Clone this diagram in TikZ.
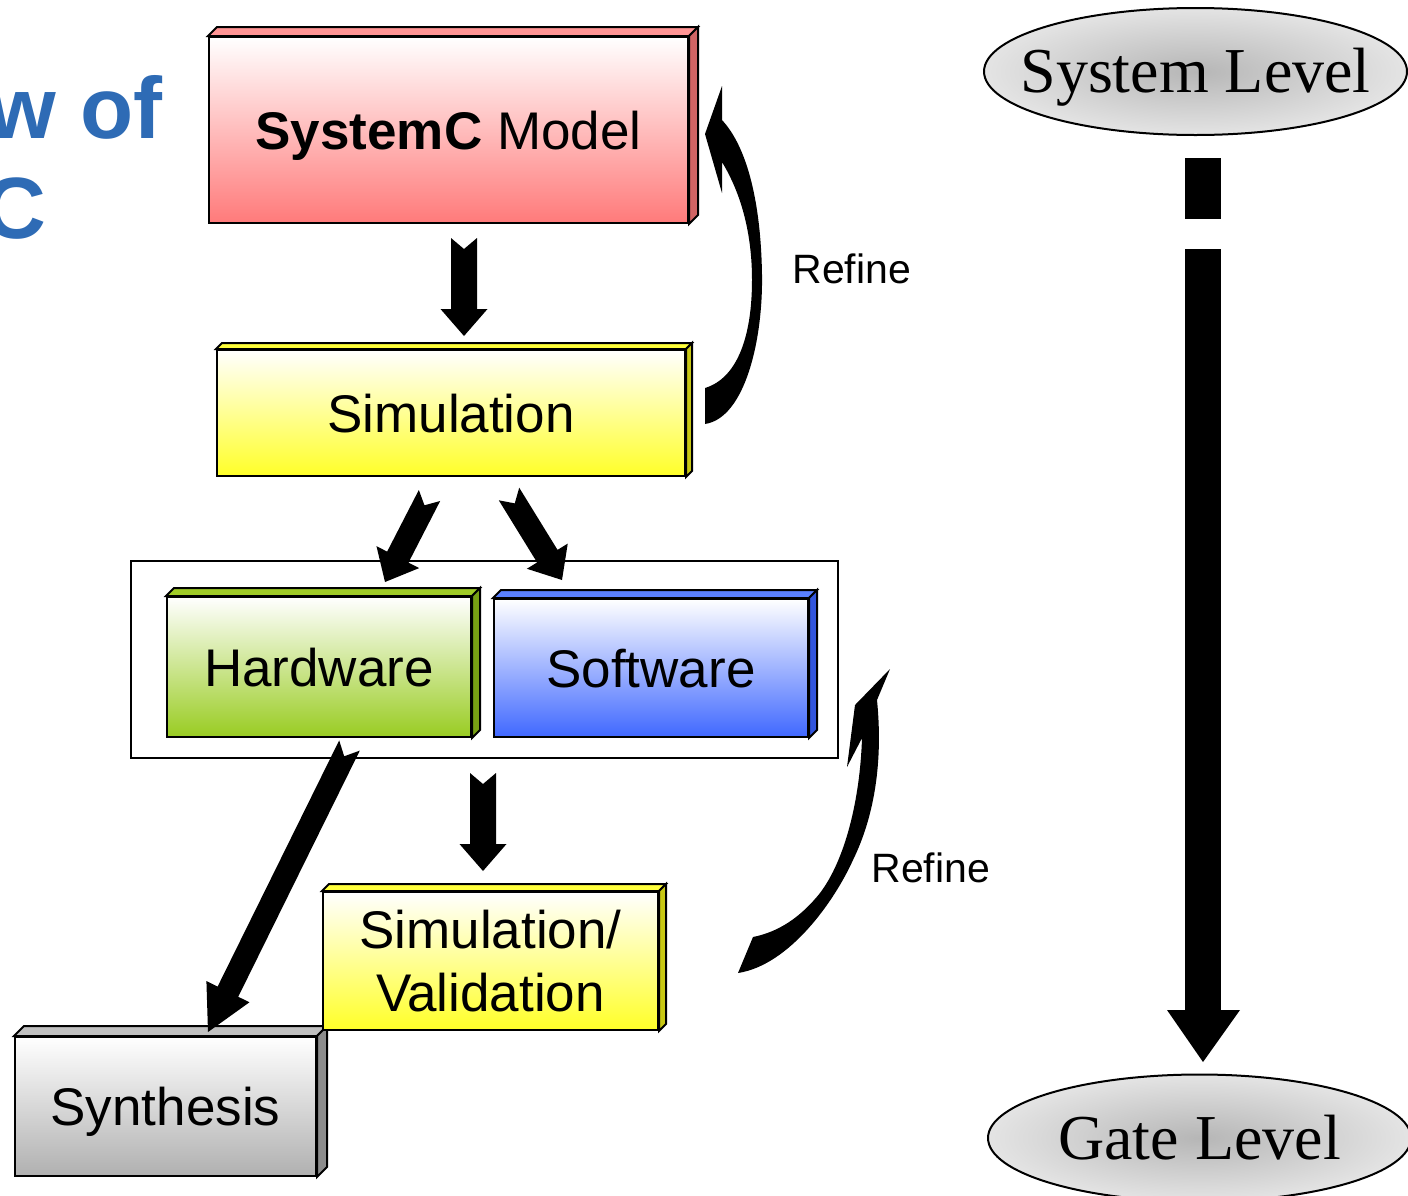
\documentclass[tikz,border=0pt]{standalone}
\usepackage{fontspec}
\setmainfont{Liberation Sans}
\newfontfamily\levelfont{Liberation Serif}
\usetikzlibrary{calc,shapes.geometric}

\definecolor{titleblue}{RGB}{46,107,181}
\definecolor{pinkB}{RGB}{255,122,122}
\definecolor{pinkT}{RGB}{255,148,148}
\definecolor{pinkS}{RGB}{208,100,100}
\definecolor{yelB}{RGB}{255,255,40}
\definecolor{yelT}{RGB}{255,255,60}
\definecolor{yelS}{RGB}{200,200,20}
\definecolor{grnB}{RGB}{153,204,34}
\definecolor{grnT}{RGB}{160,204,40}
\definecolor{grnS}{RGB}{120,160,20}
\definecolor{bluB}{RGB}{64,104,255}
\definecolor{bluT}{RGB}{90,128,255}
\definecolor{bluS}{RGB}{50,85,220}
\definecolor{gryB}{RGB}{176,176,176}
\definecolor{gryT}{RGB}{192,192,192}
\definecolor{gryS}{RGB}{140,140,140}
\definecolor{ellIn}{RGB}{182,182,182}
\definecolor{ellOut}{RGB}{228,228,228}

% top and right faces of a 3D box built on a node
\newcommand\cubefaces[4]{%
  \filldraw[fill=#3, draw=black, line width=1pt, line join=miter]
    (#1.north west) -- ++(#2,-#2) -- ($(#1.north east)+(#2,-#2)$) -- (#1.north east) -- cycle;
  \filldraw[fill=#4, draw=black, line width=1pt, line join=miter]
    (#1.north east) -- ++(#2,-#2) -- ($(#1.south east)+(#2,-#2)$) -- (#1.south east) -- cycle;
}

% notched block arrow: tail, tip, half shaft, half head, head length, notch depth
\newcommand\blockarrow[6]{%
  \fill[black]
    ($(#1)!#6!(#2)$)
    -- ($(#1)!#3!90:(#2)$)
    -- ($(#2)!#5!(#1)!#3!90:(#2)$)
    -- ($(#2)!#5!(#1)!#4!90:(#2)$)
    -- (#2)
    -- ($(#2)!#5!(#1)!#4!-90:(#2)$)
    -- ($(#2)!#5!(#1)!#3!-90:(#2)$)
    -- ($(#1)!#3!-90:(#2)$)
    -- cycle;
}

% shaded level ellipse behind a text node
\newcommand\levelellipse[1]{%
  \shade[draw=black, line width=1pt, inner color=ellIn, outer color=ellOut]
    (#1.center) ellipse [x radius=105.75pt, y radius=31.75pt];
}

\tikzset{
  cube/.style={draw=black, line width=1pt, inner sep=0pt, top color=white,
    font=\fontsize{26.5pt}{31.5pt}\selectfont, align=center},
  capcenter/.style={text height=19pt, text depth=0pt},
  level/.style={inner sep=0pt,
    font=\levelfont\fontsize{32pt}{36pt}\selectfont,
    text height=21.2pt, text depth=0pt},
  refine/.style={anchor=base west, inner sep=0pt,
    font=\fontsize{20.5pt}{24pt}\selectfont},
  title/.style={anchor=base west, inner sep=0pt, text=titleblue,
    font=\bfseries\fontsize{43.5pt}{48pt}\selectfont}
}

\begin{document}
\begin{tikzpicture}[x=0.5pt, y=-0.5pt]
\useasboundingbox (0,0) rectangle (1408,1195);
\fill[white] (0,0) rectangle (1408,1195);

% heading fragments
\node[title] (t1) at (-12,138) {w of};
\node[title] (t2) at (-17,238) {C};

% design flow boxes
\node[cube, capcenter, bottom color=pinkB, minimum width=239.5pt, minimum height=93pt]
  (sysc) at (448.5,130) {\textbf{SystemC} Model};
\cubefaces{sysc}{9}{pinkT}{pinkS}

\node[cube, capcenter, bottom color=yelB, minimum width=234pt, minimum height=63pt]
  (sim) at (451,413) {Simulation};
\cubefaces{sim}{6}{yelT}{yelS}

\node[draw=black, line width=1pt, fill=white, inner sep=0pt,
  minimum width=353.5pt, minimum height=98.5pt] (grp) at (484.5,659.5) {};

\node[cube, capcenter, bottom color=grnB, minimum width=152pt, minimum height=70pt]
  (hw) at (319,667) {Hardware};
\cubefaces{hw}{8}{grnT}{grnS}

\node[cube, capcenter, bottom color=bluB, minimum width=157pt, minimum height=69pt]
  (sw) at (651,668) {Software};
\cubefaces{sw}{8}{bluT}{bluS}

\node[cube, capcenter, bottom color=gryB, minimum width=150.5pt, minimum height=69.5pt]
  (syn) at (165.5,1106.5) {Synthesis};
\cubefaces{syn}{10}{gryT}{gryS}

\node[cube, bottom color=yelB, minimum width=167.5pt, minimum height=69pt]
  (sv) at (490.5,961) {Simulation/\\Validation};
\cubefaces{sv}{7}{yelT}{yelS}

% straight flow arrows
\coordinate (a1s) at ($(sysc.south)+(15.5,14)$);
\coordinate (a1e) at ($(sim.north)+(13,-13)$);
\blockarrow{a1s}{a1e}{6.5pt}{11.75pt}{13.5pt}{5.5pt}

\coordinate (a2s) at ($(sim.south)+(-21.5,18.5)$);
\coordinate (a2e) at ($(hw.north)+(66,-14)$);
\blockarrow{a2s}{a2e}{6pt}{12pt}{14pt}{5.5pt}

\coordinate (a3s) at ($(sim.south)+(58,17)$);
\coordinate (a3e) at ($(sw.north)+(-89,-18)$);
\blockarrow{a3s}{a3e}{6pt}{12pt}{14pt}{5.5pt}

\coordinate (a4s) at ($(hw.south)+(30.5,7.5)$);
\coordinate (a4e) at ($(syn.north)+(42.5,-4)$);
\blockarrow{a4s}{a4e}{5.75pt}{12pt}{22.5pt}{6pt}

\coordinate (a5s) at ($(grp.south)+(-1.5,14)$);
\coordinate (a5e) at ($(sv.north)+(-7.5,-20)$);
\blockarrow{a5s}{a5e}{6.5pt}{11.75pt}{13.5pt}{5.5pt}

% curved refine arrows
\fill[black] (705,424) .. controls (745,418) and (763,340) .. (762,275)
  .. controls (761,205) and (748,148) .. (722,120)
  -- (722,86) -- (705,134) -- (722,193) -- (722,162)
  .. controls (742,195) and (752,235) .. (752,280)
  .. controls (752,335) and (738,378) .. (705,388) -- cycle;
\node[refine] (r1) at (792,283) {Refine};

\fill[black] (738,973) .. controls (790,965) and (835,900) .. (853,860)
  .. controls (875,815) and (883,760) .. (877,700)
  -- (890,669) -- (855,705) -- (847,767) -- (862,738)
  .. controls (860,800) and (845,860) .. (820,893)
  .. controls (800,918) and (778,932) .. (753,937) -- cycle;
\node[refine] (r2) at (871,882) {Refine};

% abstraction levels
\coordinate (slc) at (1195.5,71.5);
\coordinate (glc) at (1199.5,1138);
\levelellipse{slc}
\levelellipse{glc}
\node[level] (sl) at (slc) {System Level};
\node[level] (gl) at (glc) {Gate Level};

\coordinate (dtop) at ($(sl.center)+(7.5,86.5)$);
\coordinate (dtip) at ($(gl.center)+(3.5,-76)$);
\fill[black] ($(dtop)+(-18,0)$) rectangle ($(dtop)+(18,61)$);
\fill[black] ($(dtop)+(-18,91)$) rectangle ($(dtip)+(18,-52)$);
\fill[black] ($(dtip)+(-36,-52)$) -- ($(dtip)+(37,-52)$) -- (dtip) -- cycle;
\end{tikzpicture}
\end{document}
